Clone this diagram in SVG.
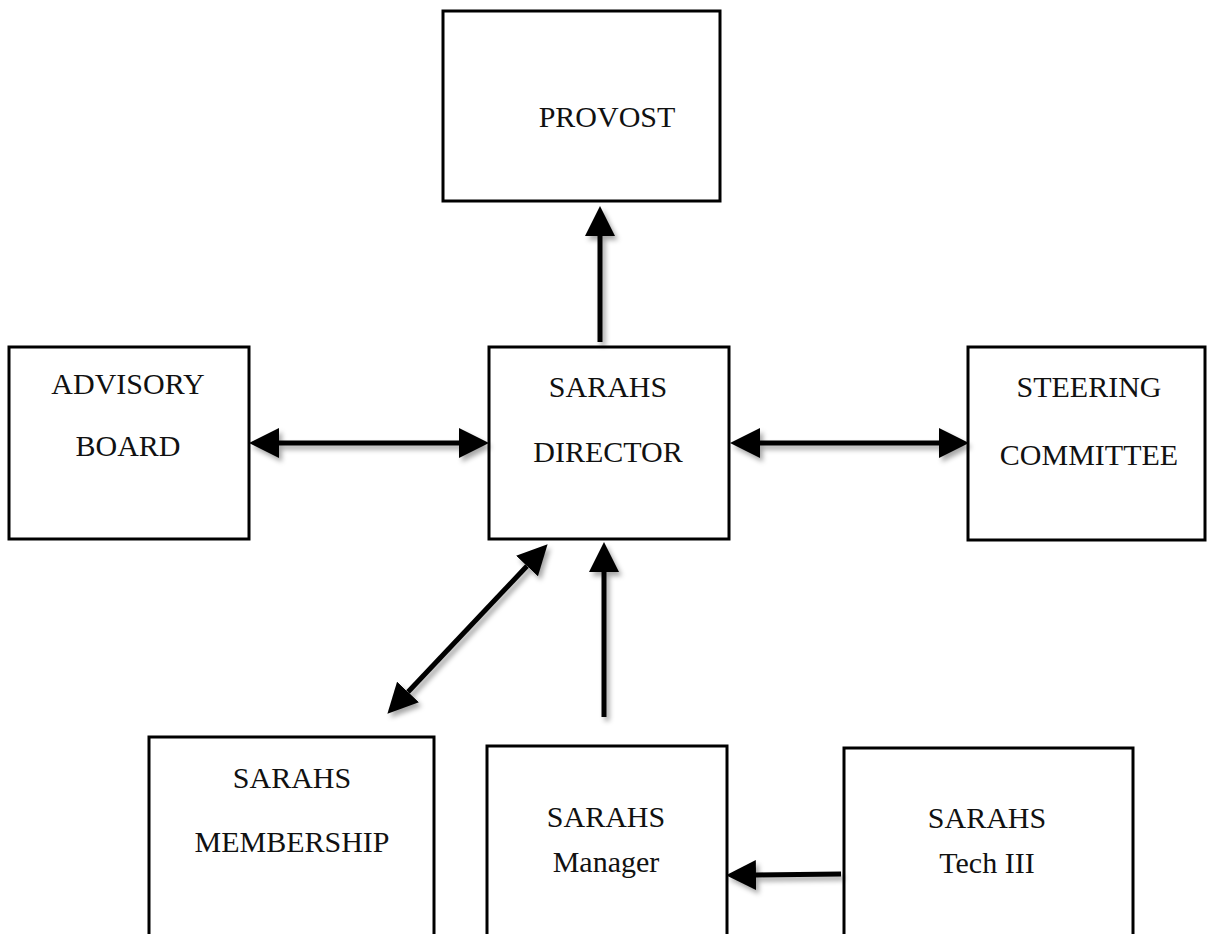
<svg xmlns="http://www.w3.org/2000/svg" width="1207" height="934" viewBox="0 0 1207 934">
<style>
.box{fill:#fff;stroke:#000;stroke-width:3}
.lbl{font-family:"Liberation Serif","DejaVu Serif",serif;font-size:30px;fill:#111;text-anchor:middle}
.conn{fill:none;stroke:#000;stroke-width:5;marker-end:url(#head)}
.both{marker-start:url(#head)}
</style>
<defs>
<marker id="head" markerUnits="userSpaceOnUse" markerWidth="30" markerHeight="30" refX="0" refY="14.5" orient="auto-start-reverse" viewBox="0 0 29 29">
<path d="M0,0 L29,14.5 L0,29 z" fill="#000"/>
</marker>
<filter id="sh" x="-20%" y="-20%" width="140%" height="140%">
<feDropShadow dx="3" dy="4" stdDeviation="2.5" flood-color="#000" flood-opacity="0.35"/>
</filter>
</defs>
<rect width="1207" height="934" fill="#fff"/>
<g id="provost"><rect class="box" x="443" y="11" width="277" height="190"/><text class="lbl" x="607" y="127">PROVOST</text></g>
<g id="advisory"><rect class="box" x="9" y="347" width="240" height="192"/><text class="lbl" x="128" y="394">ADVISORY</text><text class="lbl" x="128" y="456">BOARD</text></g>
<g id="director"><rect class="box" x="489" y="347" width="240" height="192"/><text class="lbl" x="608" y="397">SARAHS</text><text class="lbl" x="608" y="462">DIRECTOR</text></g>
<g id="steering"><rect class="box" x="968" y="347" width="237" height="193"/><text class="lbl" x="1089" y="397">STEERING</text><text class="lbl" x="1089" y="465">COMMITTEE</text></g>
<g id="membership"><rect class="box" x="149" y="737" width="285" height="200"/><text class="lbl" x="292" y="788">SARAHS</text><text class="lbl" x="292" y="852">MEMBERSHIP</text></g>
<g id="manager"><rect class="box" x="487" y="746" width="240" height="192"/><text class="lbl" x="606" y="827">SARAHS</text><text class="lbl" x="606" y="872">Manager</text></g>
<g id="tech"><rect class="box" x="844" y="748" width="289" height="190"/><text class="lbl" x="987" y="828">SARAHS</text><text class="lbl" x="987" y="873">Tech III</text></g>
<g id="connectors" filter="url(#sh)">
<path class="conn" d="M600,342 L600,236"/>
<path class="conn both" d="M279,443 L459,443"/>
<path class="conn both" d="M760,443 L939,443"/>
<path class="conn both" d="M408,692 L527,566"/>
<path class="conn" d="M604,717 L604,572"/>
<path class="conn" d="M841,874 L756,875"/>
</g>
</svg>
